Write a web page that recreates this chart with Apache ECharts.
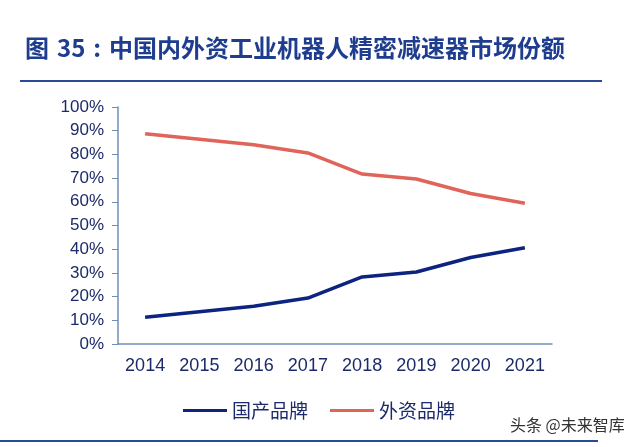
<!DOCTYPE html>
<html><head><meta charset="utf-8">
<script src="https://cdn.jsdelivr.net/npm/echarts@6/dist/echarts.min.js"></script>
<style>html,body{margin:0;padding:0;background:#fff}#c{width:640px;height:447px}</style>
</head><body><div id="c"></div>
<script>
const categories = ['2014','2015','2016','2017','2018','2019','2020','2021'];
const domestic = [11.3, 13.6, 15.9, 19.4, 28.3, 30.4, 36.5, 40.6];
const foreign = [88.7, 86.4, 84.1, 80.6, 71.7, 69.6, 63.5, 59.4];
const seriesNames = ['国产品牌', '外资品牌'];
const titleText = '图\u200435\u2004:\u2004中国内外资工业机器人精密减速器市场份额';
const watermark = '头条 @未来智库';

const chart = echarts.init(document.getElementById('c'));
const textColor = '#1c2a6b';
const axisColor = '#6f8fb5';
chart.setOption({
  animation: false,
  title: {
    text: titleText, left: 20, top: 31,
    textStyle: {fontSize: 24, fontWeight: 'bold', color: '#1f3d8f', fontFamily: 'Noto Sans CJK SC'}
  },
  graphic: [
    {type: 'line', shape: {x1: 20, y1: 81, x2: 602, y2: 81}, style: {stroke: '#2a4a96', lineWidth: 2}},
    {type: 'line', shape: {x1: 0, y1: 441, x2: 598, y2: 441}, style: {stroke: '#2a4a96', lineWidth: 2}},
    {type: 'text', left: 510, top: 417, style: {text: watermark, fontSize: 16, fill: '#333', fontFamily: 'Noto Sans CJK SC'}}
  ],
  legend: {
    data: seriesNames, left: 178, top: 396, itemWidth: 44, itemHeight: 3, itemGap: 22,
    icon: 'rect',
    textStyle: {fontSize: 19, color: textColor, fontFamily: 'Noto Sans CJK SC'}
  },
  grid: {left: 118, right: 88, top: 107, bottom: 103},
  xAxis: {
    type: 'category', data: categories, boundaryGap: true,
    axisLine: {lineStyle: {color: axisColor, width: 1.5}},
    axisTick: {lineStyle: {color: axisColor}, length: 6},
    axisLabel: {fontSize: 18, color: textColor, margin: 13, fontFamily: 'Liberation Sans'}
  },
  yAxis: {
    type: 'value', min: 0, max: 100, interval: 10,
    axisLine: {show: true, lineStyle: {color: axisColor, width: 1.5}},
    axisTick: {show: true, inside: false, length: 6, lineStyle: {color: axisColor}},
    splitLine: {show: false},
    axisLabel: {fontSize: 17, color: textColor, formatter: '{value}%', margin: 14, fontFamily: 'Liberation Sans'}
  },
  series: [
    {name: seriesNames[0], type: 'line', data: domestic, symbol: 'none',
     lineStyle: {color: '#0c2380', width: 3.5}, itemStyle: {color: '#0c2380'}},
    {name: seriesNames[1], type: 'line', data: foreign, symbol: 'none',
     lineStyle: {color: '#e0645a', width: 3.5}, itemStyle: {color: '#e0645a'}}
  ]
});
</script></body></html>
